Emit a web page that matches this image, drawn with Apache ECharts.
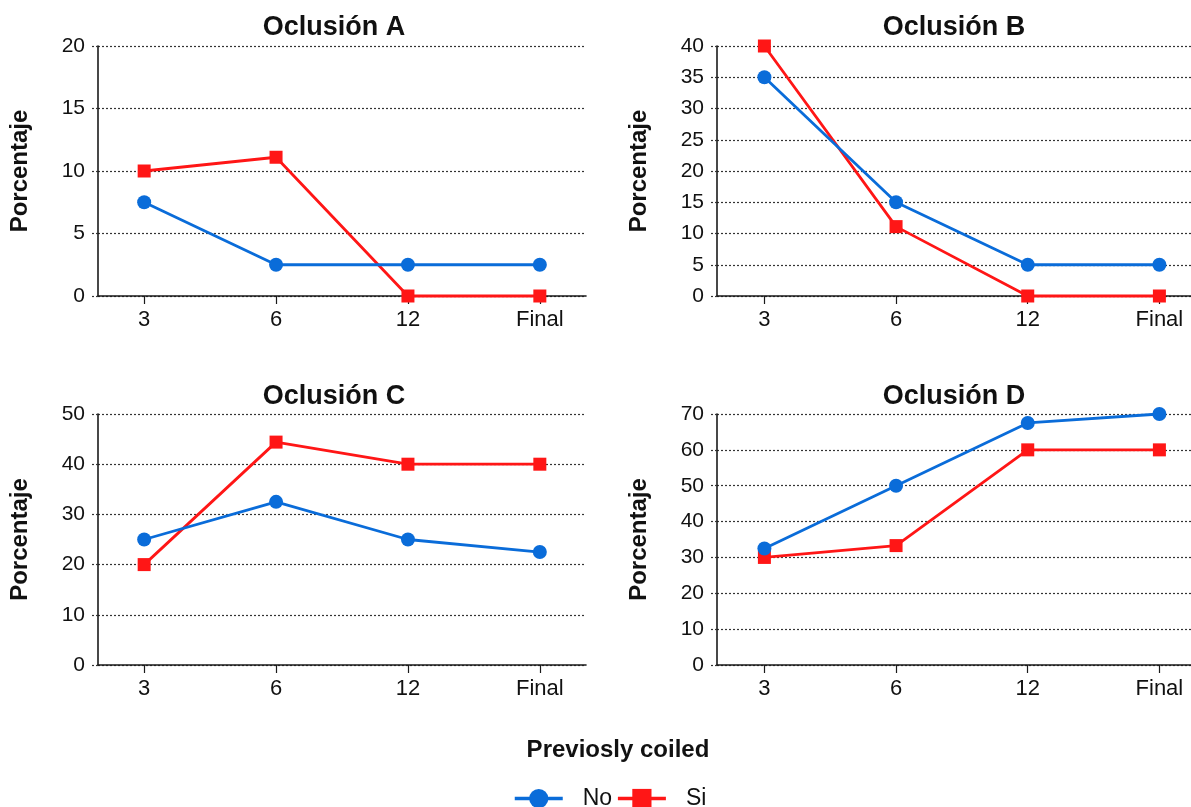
<!DOCTYPE html>
<html>
<head>
<meta charset="utf-8">
<script src="https://cdn.jsdelivr.net/npm/echarts@6/dist/echarts.min.js"></script>
<style>
  html, body { margin: 0; padding: 0; background: #fff; }
  #chart { width: 1191px; height: 807px; }
</style>
</head>
<body>
<div id="chart"></div>
<script>
// ---- data ----
const categories = ['3', '6', '12', 'Final'];
const panelTitles = ['Oclusión A', 'Oclusión B', 'Oclusión C', 'Oclusión D'];
const seriesNames = ['No', 'Si'];
const noA = [7.5, 2.5, 2.5, 2.5];
const siA = [10, 11.1, 0, 0];
const noB = [35, 15, 5, 5];
const siB = [40, 11.1, 0, 0];
const noC = [25, 32.5, 25, 22.5];
const siC = [20, 44.4, 40, 40];
const noD = [32.5, 50, 67.5, 70];
const siD = [30, 33.3, 60, 60];
const yMax = [20, 40, 50, 70];
const yStep = [5, 5, 10, 10];
const legendTitle = 'Previosly coiled';
const yName = 'Porcentaje';

// ---- layout ----
const FONT = '"Liberation Sans", Arial, Helvetica, sans-serif';
const BLUE = '#0A6CD9';
const RED = '#FF1616';
const AXIS = '#1a1a1a';
const grids = [
  { left: 98, top: 46, width: 488, height: 250 },
  { left: 717, top: 46, right: 0, height: 250 },
  { left: 98, top: 414, width: 488, height: 251 },
  { left: 717, top: 414, right: 0, height: 251 }
];
// x extents (in category-index units) so the right panels look cut by the image edge
const xMin = [-0.35, -0.36, -0.35, -0.36];
const xMax = [3.35, 3.24, 3.35, 3.24];
const titlePos = [
  { left: 329, top: 9 },
  { left: 949, top: 9 },
  { left: 329, top: 378 },
  { left: 949, top: 378 }
];
const panels = [[noA, siA], [noB, siB], [noC, siC], [noD, siD]];
const idx = categories.map((c, i) => i);

const option = {
  animation: false,
  backgroundColor: '#fff',
  title: panelTitles.map((t, i) => ({
    text: t,
    left: titlePos[i].left,
    top: titlePos[i].top,
    textAlign: 'center',
    textStyle: { fontFamily: FONT, fontSize: 27, fontWeight: 'bold', color: '#111' }
  })).concat([{
    text: legendTitle,
    left: 613,
    top: 733,
    textAlign: 'center',
    textStyle: { fontFamily: FONT, fontSize: 24, fontWeight: 'bold', color: '#111' }
  }]),
  grid: grids.map(g => Object.assign({ containLabel: false }, g)),
  xAxis: grids.map((g, i) => ({
    type: 'value',
    gridIndex: i,
    min: xMin[i],
    max: xMax[i],
    axisLine: { show: true, onZero: false, lineStyle: { color: AXIS, width: 1.6 } },
    axisTick: { show: true, customValues: idx, length: 8, lineStyle: { color: AXIS, width: 1.2 } },
    axisLabel: {
      customValues: idx,
      formatter: v => categories[Math.round(v)],
      fontFamily: FONT, fontSize: 22, color: '#111', margin: 13
    },
    splitLine: { show: false }
  })),
  yAxis: grids.map((g, i) => ({
    type: 'value',
    gridIndex: i,
    min: 0,
    max: yMax[i],
    interval: yStep[i],
    name: yName,
    nameLocation: 'middle',
    nameGap: 66,
    nameRotate: 90,
    nameTextStyle: { fontFamily: FONT, fontSize: 24, fontWeight: 'bold', color: '#111' },
    axisLine: { show: true, onZero: false, lineStyle: { color: AXIS, width: 1.6 } },
    axisTick: { show: true, length: 8, lineStyle: { color: '#333', width: 1.2, type: [2, 2] } },
    axisLabel: { fontFamily: FONT, fontSize: 21, color: '#111', margin: 13 },
    splitLine: { show: true, lineStyle: { color: '#333', width: 1.2, type: [2, 2] } }
  })),
  legend: {
    data: seriesNames,
    left: 508,
    top: 782,
    itemWidth: 48,
    itemHeight: 24,
    itemGap: 4,
    lineStyle: { width: 3.5 },
    textStyle: { fontFamily: FONT, fontSize: 23, color: '#111', padding: [0, 0, 0, 15] }
  },
  series: []
};

panels.forEach((pair, i) => {
  pair.forEach((vals, k) => {
    option.series.push({
      name: seriesNames[k],
      type: 'line',
      xAxisIndex: i,
      yAxisIndex: i,
      data: vals.map((v, j) => [idx[j], v]),
      symbol: k === 0 ? 'circle' : 'rect',
      symbolSize: k === 0 ? 14 : 13,
      clip: false,
      z: k === 0 ? 3 : 2,
      lineStyle: { color: k === 0 ? BLUE : RED, width: 2.8 },
      itemStyle: { color: k === 0 ? BLUE : RED }
    });
  });
});

const chart = echarts.init(document.getElementById('chart'), null, { renderer: 'canvas' });
chart.setOption(option);
</script>
</body>
</html>
